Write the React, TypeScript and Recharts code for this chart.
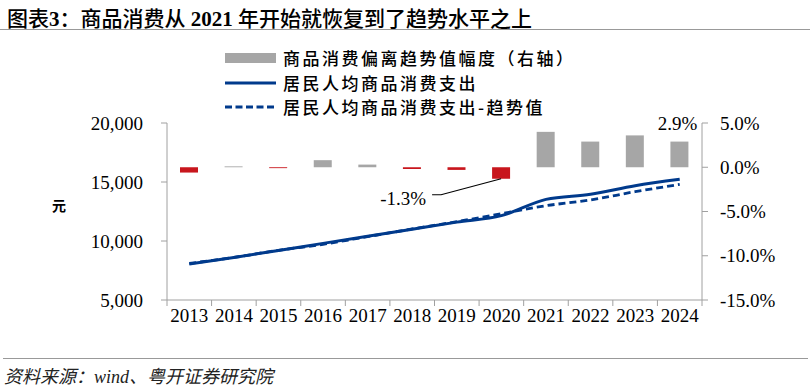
import { ComposedChart, Bar, Line, XAxis, YAxis, Cell } from 'recharts';

const years = ['2013', '2014', '2015', '2016', '2017', '2018', '2019', '2020', '2021', '2022', '2023', '2024'];
// 居民人均商品消费支出（元）
const spending = [8050, 8600, 9200, 9800, 10400, 11000, 11600, 12150, 13530, 13960, 14690, 15230];
// 趋势值（元）
const trend = [8100, 8610, 9210, 9720, 10370, 11020, 11640, 12310, 12990, 13480, 14180, 14800];
// 偏离趋势值幅度（%）
const deviation = [-0.6, 0.1, -0.1, 0.8, 0.3, -0.2, -0.3, -1.3, 4.0, 2.9, 3.6, 2.9];

const leftTicks = [5000, 10000, 15000, 20000];
const rightTicks = [-15, -10, -5, 0, 5];

const NAVY = '#003A8C';
const GRAY = '#A6A6A6';
const RED = '#C8161D';
const AXIS = '#A0A0A0';
const SERIF = '"Liberation Serif", "Times New Roman", serif';
const CJK = '"Noto Sans CJK SC", sans-serif';

const data = years.map((year, i) => ({
  year,
  spending: spending[i],
  trend: trend[i],
  deviation: deviation[i],
}));

const XTick = (props: any) => {
  const { x, y, payload, index, visibleTicksCount } = props;
  const half = payload.offset ?? 535 / years.length / 2;
  const axisY = y - 14;
  const last = index === (visibleTicksCount ?? years.length) - 1;
  return (
    <g>
      <line x1={x - half} x2={x - half} y1={axisY} y2={axisY + 6} stroke={AXIS} />
      {last && <line x1={x + half} x2={x + half} y1={axisY} y2={axisY + 6} stroke={AXIS} />}
      <text x={x} y={y + 8} textAnchor="middle" fontFamily={SERIF} fontSize={19} fill="#000">
        {payload.value}
      </text>
    </g>
  );
};

const renderBarLabel = (props: any) => {
  const { x, y, width, height, index } = props;
  const cx = x + width / 2;
  const top = Math.min(y, y + height);
  const bottom = Math.max(y, y + height);
  const text = `${deviation[index].toFixed(1)}%`;
  if (index === years.length - 1) {
    return (
      <text x={x + width + 9} y={top - 18} textAnchor="end" dominantBaseline="central" fontFamily={SERIF} fontSize={19} fill="#000">
        {text}
      </text>
    );
  }
  if (index === 7) {
    return (
      <g>
        <polyline
          points={`${cx - 69},${bottom + 16} ${cx - 60},${bottom + 16} ${cx},${bottom}`}
          fill="none"
          stroke="#000"
          strokeWidth={1.2}
        />
        <text x={cx - 75} y={bottom + 20} textAnchor="end" dominantBaseline="central" fontFamily={SERIF} fontSize={19} fill="#000">
          {text}
        </text>
      </g>
    );
  }
  return null;
};

const legendRow = (top: number, symbol: 'bar' | 'line' | 'dash', label: string) => (
  <div style={{ position: 'absolute', left: 225, top: top - 12, height: 24, display: 'flex', alignItems: 'center' }}>
    <svg width={51} height={12} style={{ display: 'block' }}>
      {symbol === 'bar' && <rect x={0} y={1} width={51} height={10} fill={GRAY} />}
      {symbol === 'line' && <line x1={0} x2={51} y1={6} y2={6} stroke={NAVY} strokeWidth={3} />}
      {symbol === 'dash' && <line x1={0} x2={51} y1={6} y2={6} stroke={NAVY} strokeWidth={3} strokeDasharray="7 3.5" />}
    </svg>
    <span style={{ marginLeft: 7, fontFamily: CJK, fontSize: 17, letterSpacing: 2.5, fontWeight: 500, color: '#000', whiteSpace: 'nowrap' }}>
      {label}
    </span>
  </div>
);

export default function App() {
  return (
    <div style={{ position: 'absolute', left: 0, top: 0, width: 810, height: 391, background: '#fff', overflow: 'hidden' }}>
      <div style={{ position: 'absolute', left: 7, top: 4, fontFamily: CJK, fontSize: 21, fontWeight: 500, color: '#000', whiteSpace: 'nowrap', lineHeight: '26px' }}>
        图表<span style={{ fontFamily: SERIF, fontWeight: 700 }}>3</span>：商品消费从
        <span style={{ fontFamily: SERIF, fontWeight: 700 }}> 2021 </span>年开始就恢复到了趋势水平之上
      </div>
      <div style={{ position: 'absolute', left: 0, top: 29, width: 810, height: 1, background: '#999' }} />

      {legendRow(57.7, 'bar', '商品消费偏离趋势值幅度（右轴）')}
      {legendRow(82.7, 'line', '居民人均商品消费支出')}
      {legendRow(106.7, 'dash', '居民人均商品消费支出-趋势值')}

      <div style={{ position: 'absolute', left: 52, top: 195, fontFamily: CJK, fontSize: 14, fontWeight: 700, color: '#000' }}>元</div>

      <div style={{ position: 'absolute', left: 0, top: 0 }}>
        <ComposedChart width={810} height={391} data={data} margin={{ top: 123, right: 0, bottom: 51, left: 0 }}>
          <XAxis
            dataKey="year"
            height={40}
            stroke={AXIS}
            tickLine={false}
            tickSize={6}
            tickMargin={8}
            interval={0}
            tick={<XTick />}
          />
          <YAxis
            yAxisId="left"
            orientation="left"
            width={167}
            domain={[5000, 20000]}
            ticks={leftTicks}
            stroke={AXIS}
            tickSize={6}
            tickMargin={18}
            tickFormatter={(v: number) => v.toLocaleString('en-US')}
            tick={{ fill: '#000', fontFamily: SERIF, fontSize: 19 }}
          />
          <YAxis
            yAxisId="right"
            orientation="right"
            width={108}
            domain={[-15, 5]}
            ticks={rightTicks}
            stroke={AXIS}
            tickSize={6}
            tickMargin={12}
            tickFormatter={(v: number) => `${v.toFixed(1)}%`}
            tick={{ fill: '#000', fontFamily: SERIF, fontSize: 19, textAnchor: 'start' }}
          />
          <Bar yAxisId="right" dataKey="deviation" barSize={18} isAnimationActive={false} label={renderBarLabel}>
            {data.map((d, i) => (
              <Cell key={`cell-${i}`} fill={d.deviation < 0 ? RED : GRAY} />
            ))}
          </Bar>
          <Line
            yAxisId="left"
            type="monotone"
            dataKey="trend"
            stroke={NAVY}
            strokeWidth={2.8}
            strokeDasharray="7 4"
            dot={false}
            activeDot={false}
            isAnimationActive={false}
          />
          <Line
            yAxisId="left"
            type="monotone"
            dataKey="spending"
            stroke={NAVY}
            strokeWidth={3}
            dot={false}
            activeDot={false}
            isAnimationActive={false}
          />
        </ComposedChart>
      </div>

      <div style={{ position: 'absolute', left: 3, top: 358, width: 805, height: 1, background: '#999' }} />
      <div style={{ position: 'absolute', left: 4, top: 365, fontFamily: `${SERIF.replace('serif', '')}${CJK}`, fontSize: 18, fontStyle: 'italic', color: '#222', whiteSpace: 'nowrap', lineHeight: '24px' }}>
        资料来源：wind、粤开证券研究院
      </div>
    </div>
  );
}
